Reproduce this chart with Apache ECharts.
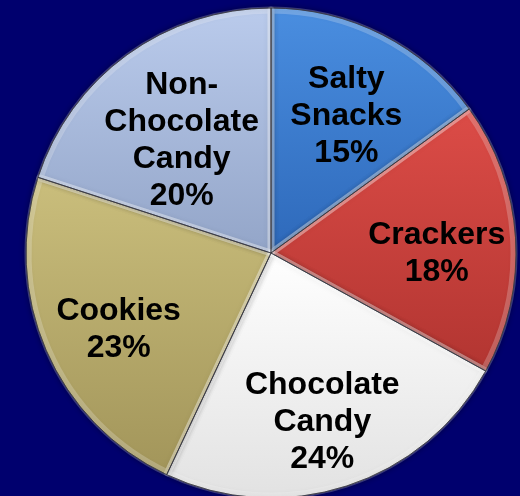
<!DOCTYPE html>
<html>
<head>
<meta charset="utf-8">
<script src="https://cdn.jsdelivr.net/npm/echarts@6/dist/echarts.min.js"></script>
<style>
  html, body { margin: 0; padding: 0; background: #00006e; }
  #chart { width: 520px; height: 496px; }
</style>
</head>
<body>
<div id="chart"></div>
<script>
// Snack category shares (percent), clockwise from 12 o'clock
const categories = ['Salty\nSnacks', 'Crackers', 'Chocolate\nCandy', 'Cookies', 'Non-\nChocolate\nCandy'];
const shares = [15, 18, 24, 23, 20];
// top / bottom tones for each slice's shaded fill
const topColors = ['#4a8ee0', '#dc4c47', '#ffffff', '#cabe7c', '#bacbec'];
const bottomColors = ['#2e69ba', '#b23531', '#e2e2e2', '#a2955a', '#93a5c8'];
// the three-line label sits a little closer to the centre
const innerLabelSet = ['Non-\nChocolate\nCandy'];

const chart = echarts.init(document.getElementById('chart'), null, { renderer: 'canvas' });

const CENTER = [271, 253];
const RADIUS = 245;
const LABEL_CENTER = [271, 264];

const fillData = categories.map((name, i) => ({
  name,
  value: shares[i],
  itemStyle: {
    color: new echarts.graphic.LinearGradient(0, 0, 0, 1, [
      { offset: 0, color: topColors[i] },
      { offset: 1, color: bottomColors[i] }
    ])
  }
}));

const plainData = categories.map((name, i) => ({ name, value: shares[i] }));

const labelStyle = {
  position: 'inside',
  formatter: '{b}\n{c}%',
  color: '#000000',
  fontFamily: 'Liberation Sans, Arial, sans-serif',
  fontWeight: 'bold',
  fontSize: 32,
  lineHeight: 37,
  align: 'center'
};

function labelSeries(radius, inner) {
  return {
    type: 'pie',
    center: LABEL_CENTER,
    radius: [0, radius],
    startAngle: 90,
    silent: true,
    avoidLabelOverlap: false,
    itemStyle: { color: 'rgba(0,0,0,0)', borderWidth: 0 },
    labelLine: { show: false },
    data: categories.map((name, i) => ({
      name,
      value: shares[i],
      label: Object.assign({}, labelStyle, { show: innerLabelSet.includes(name) === inner })
    }))
  };
}

chart.setOption({
  backgroundColor: '#00006e',
  animation: false,
  series: [
    {
      // shaded slices
      type: 'pie',
      center: CENTER,
      radius: [0, RADIUS],
      startAngle: 90,
      clockwise: true,
      silent: true,
      label: { show: false },
      labelLine: { show: false },
      itemStyle: {
        borderColor: 'rgba(30,30,40,0.75)',
        borderWidth: 1,
        shadowBlur: 6,
        shadowColor: 'rgba(0,0,0,0.5)'
      },
      data: fillData
    },
    {
      // soft bevel highlight along slice edges
      type: 'pie',
      center: CENTER,
      radius: [0, RADIUS - 2],
      startAngle: 90,
      silent: true,
      label: { show: false },
      labelLine: { show: false },
      itemStyle: {
        color: 'rgba(0,0,0,0)',
        borderColor: 'rgba(255,255,255,0.22)',
        borderWidth: 7
      },
      data: plainData
    },
    {
      // thin dividing lines drawn on top of the highlight
      type: 'pie',
      center: CENTER,
      radius: [0, RADIUS],
      startAngle: 90,
      silent: true,
      label: { show: false },
      labelLine: { show: false },
      itemStyle: {
        color: 'rgba(0,0,0,0)',
        borderColor: 'rgba(40,40,50,0.55)',
        borderWidth: 1
      },
      data: plainData
    },
    labelSeries(326, false),
    labelSeries(298, true)
  ]
});
</script>
</body>
</html>
